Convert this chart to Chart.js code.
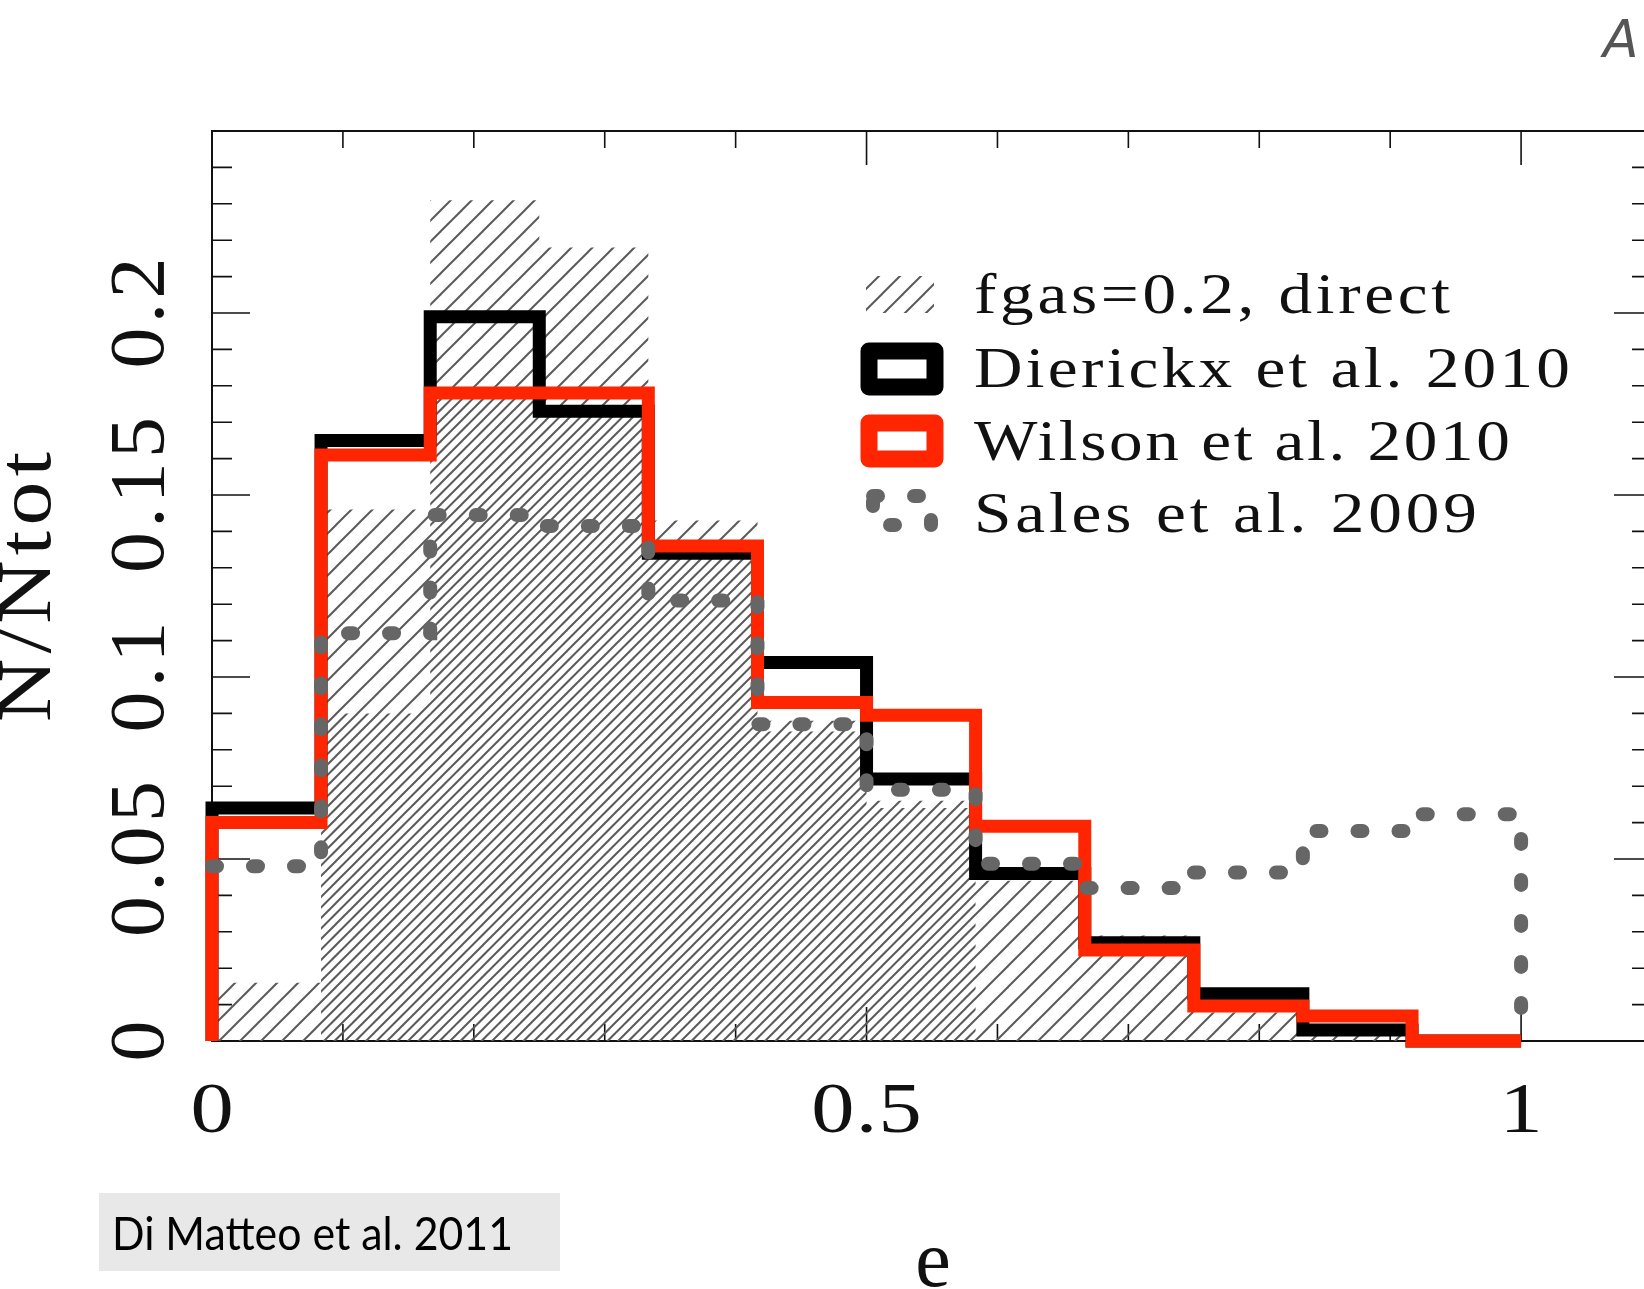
<!DOCTYPE html>
<html>
<head>
<meta charset="utf-8">
<title>Eccentricity distribution</title>
<script src="https://cdn.jsdelivr.net/npm/chart.js@4.4.1/dist/chart.umd.min.js"></script>
<style>
  html, body { margin: 0; padding: 0; background: #fff; overflow: hidden; }
  canvas { display: block; }
</style>
</head>
<body>
<canvas id="chartHist" width="1660" height="1289"></canvas>
<script>
// 12 equal bins in e, from 0 to 1
const binEdges = [0, 0.0833, 0.1667, 0.25, 0.3333, 0.4167, 0.5, 0.5833, 0.6667, 0.75, 0.8333, 0.9167, 1];

// N/Ntot per bin
const hatchDirect = [0.016, 0.146, 0.231, 0.218, 0.143, 0.088, 0.066, 0.044, 0.029, 0.0078, 0.003, 0];
const hatchInner = [0, 0.09, 0.177, 0.172, 0.133, 0.085, 0.064, 0, 0, 0, 0, 0];
const dierickx = [0.064, 0.165, 0.199, 0.173, 0.134, 0.104, 0.072, 0.046, 0.027, 0.013, 0.003, 0];
const wilson = [0.060, 0.161, 0.178, 0.178, 0.136, 0.093, 0.0895, 0.059, 0.025, 0.0096, 0.0069, 0];
const sales = [0.048, 0.112, 0.1445, 0.1415, 0.121, 0.087, 0.069, 0.0487, 0.042, 0.0463, 0.0577, 0.0623];

const seriesLabels = ["fgas=0.2, direct", "Dierickx et al. 2010", "Wilson et al. 2010", "Sales et al. 2009"];
const xTickValues = [0, 0.5, 1];
const xTickLabels = ["0", "0.5", "1"];
const yTickValues = [0, 0.05, 0.1, 0.15, 0.2];
const yTickLabels = ["0", "0.05", "0.1", "0.15", "0.2"];

const RED = "#fe2500";
const DOTS = "#666666";

// outline of a histogram: flat across each bin, down to zero at the last edge;
// rise=false leaves out the climb from zero at the first edge
function histPoints(values, rise = true) {
  const pts = rise ? [{ x: binEdges[0], y: 0 }] : [];
  values.forEach((v, i) => pts.push({ x: binEdges[i], y: v }));
  pts.push({ x: binEdges[binEdges.length - 1], y: 0 });
  return pts;
}

// "/" hatching, 21px apart; offset shifts the lines inside the tile
function hatchPattern(offset) {
  const size = 21;
  const tile = document.createElement("canvas");
  tile.width = size;
  tile.height = size;
  const t = tile.getContext("2d");
  t.strokeStyle = "#5a5a5a";
  t.lineWidth = 2;
  for (let k = -1; k <= 2; k++) {
    const c = offset + k * size;
    t.beginPath();
    t.moveTo(c - size - 4, size + 4);
    t.lineTo(c + 4, -4);
    t.stroke();
  }
  return t.createPattern(tile, "repeat");
}

const hatchA = hatchPattern(0);
const hatchB = hatchPattern(10.5);

// text widened by sx and then letter-spaced out to a given width, from the left
function fitText(ctx, text, x, y, width, sx) {
  ctx.save();
  ctx.translate(x, y);
  ctx.scale(sx, 1);
  ctx.letterSpacing = "0px";
  const w = ctx.measureText(text).width;
  const gap = text.length > 1 ? (width / sx - w) / (text.length - 1) : 0;
  ctx.letterSpacing = gap + "px";
  ctx.textAlign = "left";
  ctx.fillText(text, 0, 0);
  ctx.restore();
}

function centeredText(ctx, text, cx, y, sx, spacing) {
  ctx.save();
  ctx.letterSpacing = spacing + "px";
  const w = (ctx.measureText(text).width - spacing) * sx;
  ctx.translate(cx - w / 2, y);
  ctx.scale(sx, 1);
  ctx.textAlign = "left";
  ctx.fillText(text, 0, 0);
  ctx.restore();
}

const framePlugin = {
  id: "frame",
  beforeDatasetsDraw(chart) {
    const { ctx, chartArea: a, scales } = chart;
    const xs = scales.x, ys = scales.y;
    ctx.save();
    ctx.strokeStyle = "#111";
    ctx.lineWidth = 2;
    ctx.strokeRect(a.left, a.top, a.right - a.left, a.bottom - a.top);

    ctx.lineWidth = 1.6;
    ctx.beginPath();
    for (let i = 1; i <= 10; i++) {
      const px = xs.getPixelForValue(i / 10);
      const len = i % 5 === 0 ? 34 : 17;
      ctx.moveTo(px, a.bottom);
      ctx.lineTo(px, a.bottom - len);
      ctx.moveTo(px, a.top);
      ctx.lineTo(px, a.top + len);
    }
    for (let i = 1; i <= 24; i++) {
      const py = ys.getPixelForValue(i / 100);
      const len = i % 5 === 0 ? 38 : 20;
      ctx.moveTo(a.left, py);
      ctx.lineTo(a.left + len, py);
      ctx.moveTo(a.right, py);
      ctx.lineTo(a.right - len, py);
    }
    ctx.stroke();
    ctx.restore();
  },
  afterDraw(chart) {
    const { ctx, scales } = chart;
    const xs = scales.x, ys = scales.y;
    ctx.save();
    ctx.fillStyle = "#111";
    ctx.textBaseline = "alphabetic";

    // x tick labels
    ctx.font = "72px 'Liberation Serif'";
    xTickLabels.forEach((lab, i) => {
      centeredText(ctx, lab, xs.getPixelForValue(xTickValues[i]), 1132, 1.2, 1);
    });

    // y tick labels, turned to read upwards
    ctx.font = "78px 'Liberation Serif'";
    yTickLabels.forEach((lab, i) => {
      ctx.save();
      ctx.translate(163, ys.getPixelForValue(yTickValues[i]));
      ctx.rotate(-Math.PI / 2);
      centeredText(ctx, lab, 0, 0, 1.05, 4);
      ctx.restore();
    });

    // axis titles
    ctx.font = "80px 'Liberation Serif'";
    centeredText(ctx, "e", 933, 1286, 1, 0);
    ctx.save();
    ctx.translate(50, 587);
    ctx.rotate(-Math.PI / 2);
    ctx.font = "76px 'Liberation Serif'";
    fitText(ctx, "N/Ntot", -135, 0, 270, 1.15);
    ctx.restore();

    // legend
    const ds = chart.data.datasets;
    const rows = [313, 387, 460, 532];
    ctx.font = "57px 'Liberation Serif'";
    const widths = [476, 596, 536, 503];
    seriesLabels.forEach((lab, i) => fitText(ctx, lab, 974, rows[i], widths[i], 1.18));

    ctx.fillStyle = hatchA;
    ctx.fillRect(866, 276, 68, 37);

    ctx.lineJoin = "round";
    ctx.lineWidth = 17;
    ctx.strokeStyle = ds[1].borderColor;
    ctx.strokeRect(869, 351, 66, 36);
    ctx.strokeStyle = ds[2].borderColor;
    ctx.strokeRect(869, 423, 66, 36);

    ctx.lineWidth = 14;
    ctx.lineCap = "round";
    ctx.setLineDash(ds[3].borderDash);
    ctx.strokeStyle = ds[3].borderColor;
    ctx.strokeRect(873, 496, 58, 29);
    ctx.setLineDash([]);

    // source box
    ctx.fillStyle = "#e8e8e8";
    ctx.fillRect(99, 1193, 461, 78);
    ctx.fillStyle = "#000";
    ctx.font = "46px Lato";
    const cap = "Di Matteo et al. 2011";
    const cw = ctx.measureText(cap).width;
    ctx.save();
    ctx.translate(112, 1250);
    ctx.scale(401 / cw, 1);
    ctx.textAlign = "left";
    ctx.fillText(cap, 0, 0);
    ctx.restore();

    // corner heading
    ctx.fillStyle = "#555";
    ctx.font = "italic 52px 'DejaVu Sans'";
    ctx.fillText("A", 1603, 57);
    ctx.restore();
  }
};

const lineBase = {
  pointRadius: 0,
  stepped: true,
  clip: false,
  borderCapStyle: "butt",
  borderJoinStyle: "miter",
};

new Chart(document.getElementById("chartHist"), {
  type: "line",
  data: {
    datasets: [
      {
        ...lineBase,
        label: seriesLabels[0],
        data: histPoints(hatchDirect),
        borderWidth: 0,
        borderColor: "rgba(0,0,0,0)",
        backgroundColor: hatchA,
        fill: "origin",
        order: 5,
      },
      {
        ...lineBase,
        label: seriesLabels[1],
        data: histPoints(dierickx),
        borderColor: "#000000",
        borderWidth: 13,
        fill: false,
        order: 2,
      },
      {
        ...lineBase,
        label: seriesLabels[2],
        data: histPoints(wilson),
        borderColor: RED,
        borderWidth: 13,
        fill: false,
        order: 1,
      },
      {
        ...lineBase,
        label: seriesLabels[3],
        data: histPoints(sales, false),
        borderColor: DOTS,
        borderWidth: 14,
        borderDash: [5, 36],
        borderCapStyle: "round",
        fill: false,
        order: 0,
      },
      {
        ...lineBase,
        label: "",
        data: histPoints(hatchInner),
        borderWidth: 0,
        borderColor: "rgba(0,0,0,0)",
        backgroundColor: hatchB,
        fill: "origin",
        order: 4,
      },
    ],
  },
  options: {
    responsive: false,
    devicePixelRatio: 1,
    animation: false,
    events: [],
    layout: {
      padding: { left: 212, top: 131, right: 8, bottom: 248 },
    },
    scales: {
      x: { type: "linear", min: 0, max: 1.1, display: false },
      y: { type: "linear", min: 0, max: 0.25, display: false },
    },
    plugins: {
      legend: { display: false },
      tooltip: { enabled: false },
    },
  },
  plugins: [framePlugin],
});
</script>
</body>
</html>
